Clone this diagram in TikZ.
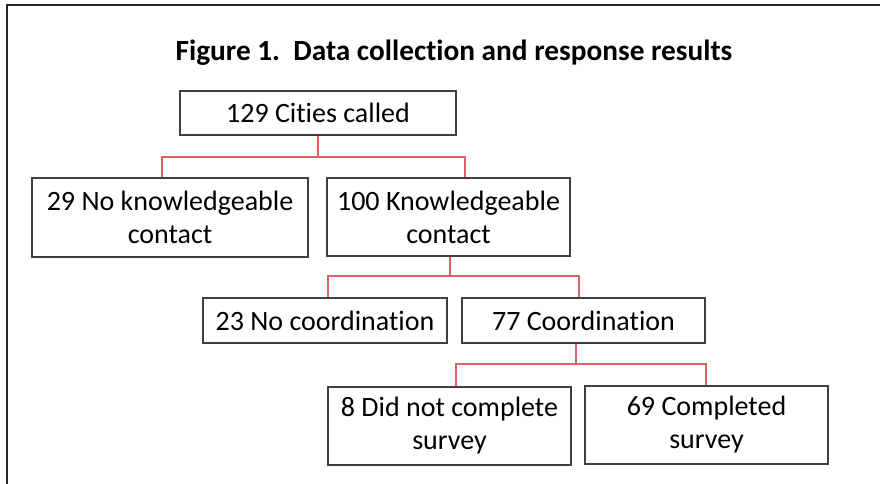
\documentclass[tikz,border=0pt]{standalone}
\usepackage{fontspec}
\setmainfont{Carlito}[Ligatures=NoCommon]
\definecolor{conred}{RGB}{222,98,98}
\definecolor{boxgray}{RGB}{64,64,64}
\begin{document}
\begin{tikzpicture}[x=1pt,y=-1pt,
  box/.style={draw=boxgray, line width=1.4pt, align=center, inner sep=0pt,
    font=\fontsize{28}{33}\selectfont, text=black},
  conn/.style={draw=conred, line width=1.3pt},
  frameline/.style={draw=black!85, line width=2pt}]
\useasboundingbox (0,0) rectangle (880,483);
\coordinate (ftl) at (7,5);
\coordinate (ftr) at (880,5);
\coordinate (fbl) at (7,484);
\draw[frameline] (ftr) -- (ftl) -- (fbl);
\node[anchor=base, font=\bfseries\fontsize{29.3}{34}\selectfont] (title) at (454,60) {Figure 1.\ \ Data collection and response results};
\node[box, minimum width=276, minimum height=44] (b1) at (318,113) {129 Cities called};
\node[box, minimum width=276, minimum height=79] (b2) at (170,217.5) {29 No knowledgeable\\contact};
\node[box, minimum width=243, minimum height=78] (b3) at (448.5,217) {100 Knowledgeable\\contact};
\node[box, minimum width=244, minimum height=45] (b4) at (325,320.5) {23 No coordination};
\node[box, minimum width=243, minimum height=45] (b5) at (583.5,320.5) {77 Coordination};
\node[box, minimum width=243, minimum height=78] (b6) at (449.5,426) {8 Did not complete\\survey};
\node[box, minimum width=243, minimum height=78] (b7) at (706.5,425) {69 Completed\\survey};
\coordinate (j1) at (318,157);
\coordinate (j2) at (450,276);
\coordinate (j3) at (576,364);
\draw[conn] (b1.south) -- (j1);
\draw[conn] ([xshift=-8pt]b2.north) |- (j1) -| ([xshift=16.5pt]b3.north);
\draw[conn] ([xshift=1.5pt]b3.south) -- (j2);
\draw[conn] ([xshift=3pt]b4.north) |- (j2) -| ([xshift=-4.5pt]b5.north);
\draw[conn] ([xshift=-7.5pt]b5.south) -- (j3);
\draw[conn] ([xshift=6.5pt]b6.north) |- (j3) -| ([xshift=-0.5pt]b7.north);
\end{tikzpicture}
\end{document}
